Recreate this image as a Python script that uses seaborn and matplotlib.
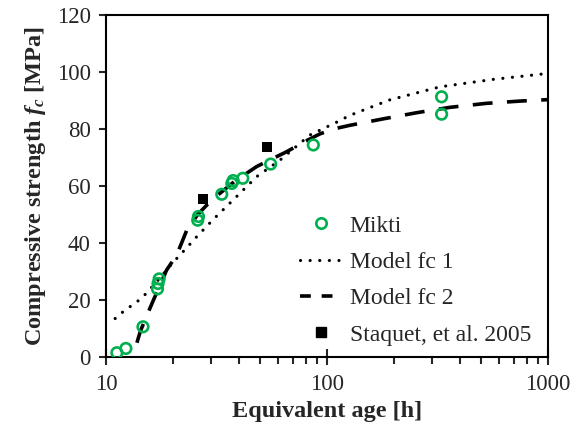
import matplotlib
matplotlib.use("Agg")
import matplotlib.pyplot as plt
import seaborn as sns
import pandas as pd
from matplotlib.lines import Line2D

mikti_age = [11.2, 12.3, 14.7, 17.1, 17.2, 17.4, 26.0, 26.2, 33.4, 37.1, 37.6, 41.6, 55.6, 86.7, 330, 330]
mikti_fc = [1.5, 3.0, 10.6, 23.9, 25.8, 27.4, 48.0, 49.3, 57.1, 60.9, 61.9, 62.7, 67.7, 74.4, 91.3, 85.2]

staquet_age = [27.5, 53.7]
staquet_fc = [55.3, 73.6]

# model curves
model1_age = [11, 12, 13.3, 14.5, 17, 20, 23.3, 25.3, 30.6, 38.3, 48.1, 61.3, 83.7, 110, 127, 192, 325, 563, 1000]
model1_fc = [13.5, 16.0, 18.5, 20.6, 26.5, 33.0, 38.5, 41.6, 48.3, 55.7, 63.3, 69.1, 77.9, 82.3, 84.8, 90.2, 94.8, 97.4, 99.5]

model2_age = [13.8, 14.3, 15.2, 16.4, 18.8, 20.9, 23.2, 26, 30, 38, 48, 55, 65.6, 78, 93, 107, 127, 178, 254, 360, 526, 748, 1000]
model2_fc = [5.0, 9.0, 14.0, 20.0, 30.5, 35.8, 44.5, 50.0, 55.0, 61.5, 66.8, 69.1, 72.0, 75.3, 78.3, 80.0, 81.3, 83.5, 85.7, 87.6, 89.0, 89.8, 90.3]

green = "#00B050"

sns.set_style("ticks")
plt.rcParams['font.family'] = ['Liberation Serif', 'DejaVu Serif']
plt.rcParams['mathtext.fontset'] = 'custom'
plt.rcParams['mathtext.it'] = 'Liberation Serif:italic:bold'
plt.rcParams['mathtext.rm'] = 'Liberation Serif:bold'
plt.rcParams['mathtext.bf'] = 'Liberation Serif:bold'

fig = plt.figure(figsize=(5.73, 4.36), dpi=100)
ax = fig.add_axes([106 / 573, 1 - 357 / 436, 442 / 573, 342 / 436])

m1 = pd.DataFrame({"age": model1_age, "fc": model1_fc})
m2 = pd.DataFrame({"age": model2_age, "fc": model2_fc})
sns.lineplot(data=m1, x="age", y="fc", ax=ax, color="black", lw=2.3,
             linestyle=(0, (0.01, 3.0)), dash_capstyle="round", sort=False)
sns.lineplot(data=m2, x="age", y="fc", ax=ax, color="black", lw=2.6,
             linestyle=(0, (5.5, 4.0)), sort=False)

mk = pd.DataFrame({"age": mikti_age, "fc": mikti_fc})
sq = pd.DataFrame({"age": staquet_age, "fc": staquet_fc})
sns.scatterplot(data=sq, x="age", y="fc", ax=ax, marker="s", color="black",
                s=50, linewidth=0, zorder=3)
sns.scatterplot(data=mk, x="age", y="fc", ax=ax, marker="o", facecolor="none",
                edgecolor=green, s=58, linewidth=1.9, zorder=4)

ax.set_xscale("log")
ax.set_xlim(10, 1000)
ax.set_ylim(0, 120)
ax.set_xticks([10, 100, 1000])
ax.set_xticklabels(["10", "100", "1000"])
ax.set_yticks(range(0, 121, 20))

for s in ax.spines.values():
    s.set_linewidth(1.5)
    s.set_color("black")
ax.tick_params(axis="x", which="major", direction="inout", length=11, width=1.5,
               labelsize=16.5, pad=7)
ax.tick_params(axis="x", which="minor", direction="out", length=5, width=1.5)
ax.tick_params(axis="y", which="major", direction="out", length=5, width=1.5,
               labelsize=16.5, pad=6)

ax.set_xlabel("Equivalent age [h]", fontsize=17.5, fontweight="bold", labelpad=4)
ax.set_ylabel(r"Compressive strength $f_c$ [MPa]", fontsize=17.5, fontweight="bold", labelpad=6)

handles = [
    Line2D([], [], marker="o", ls="none", mfc="none", mec=green, mew=1.9, ms=7.5),
    Line2D([], [], color="black", lw=2.3, ls=(0, (0.01, 3.0)), dash_capstyle="round"),
    Line2D([], [], color="black", lw=2.6, ls=(0, (3.0, 3.0))),
    Line2D([], [], marker="s", ls="none", color="black", ms=7),
]
labels = ["Mikti", "Model fc 1", "Model fc 2", "Staquet, et al. 2005"]
ax.legend(handles, labels, loc="center left", bbox_to_anchor=(0.439, 0.224),
          frameon=False, fontsize=17, borderpad=0, borderaxespad=0,
          handlelength=1.8, handletextpad=0.3, labelspacing=0.63)

fig.savefig("out.png", dpi=100)
plt.close(fig)
